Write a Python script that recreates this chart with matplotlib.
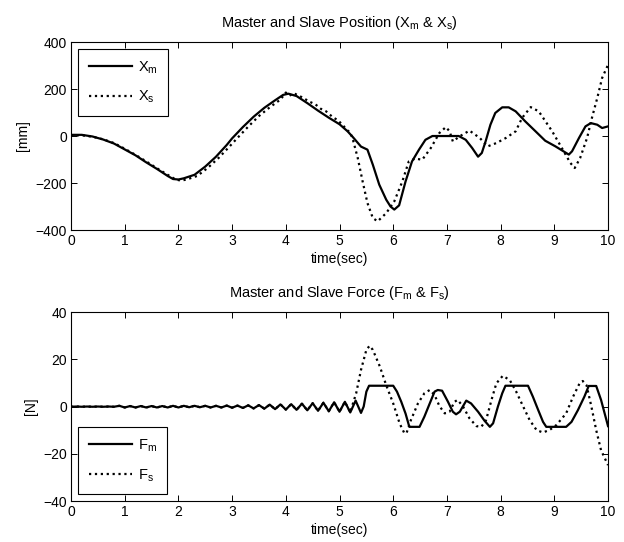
import numpy as np
import matplotlib
matplotlib.use('Agg')
import matplotlib.pyplot as plt

plt.rcParams['font.family'] = ['Liberation Sans', 'DejaVu Sans']
plt.rcParams['font.size'] = 10
plt.rcParams['mathtext.default'] = 'regular'

# ---- position data (t in sec, value in mm) ----
t_xm = [0, 0.2, 0.4, 0.6, 0.8, 1.0, 1.2, 1.4, 1.6, 1.8, 1.9, 2.0, 2.1, 2.3, 2.5, 2.7,
        2.9, 3.0, 3.2, 3.4, 3.6, 3.8, 3.95, 4.05, 4.2, 4.4, 4.6, 4.8, 5.0, 5.15, 5.25,
        5.4, 5.52, 5.62, 5.74, 5.87, 5.95, 6.02, 6.11, 6.23, 6.35, 6.48, 6.6, 6.73,
        7.22, 7.35, 7.47, 7.58, 7.65, 7.72, 7.81, 7.9, 8.03, 8.15, 8.28, 8.46, 8.65,
        8.83, 9.02, 9.27, 9.33, 9.46, 9.58, 9.68, 9.8, 9.89, 10]
xm = [5, 5, -2, -15, -32, -57, -82, -112, -140, -170, -183, -185, -180, -165, -130, -88,
      -38, -10, 38, 82, 120, 152, 175, 180, 170, 140, 108, 78, 50, 20, -5,
      -45, -58, -122, -207, -271, -300, -313, -295, -193, -108, -58, -16, 0,
      0, -16, -51, -88, -72, -23, 48, 98, 122, 122, 105, 62, 20,
      -20, -44, -79, -65, -8, 41, 55, 48, 34, 41]

t_xs = [0, 0.2, 0.4, 0.6, 0.8, 1.0, 1.2, 1.4, 1.6, 1.8, 1.95, 2.05, 2.15, 2.35, 2.55, 2.75,
        2.95, 3.1, 3.3, 3.5, 3.7, 3.9, 4.0, 4.07, 4.15, 4.3, 4.45, 4.55, 4.65, 4.75, 4.88,
        4.95, 5.05, 5.13, 5.2, 5.25, 5.34, 5.43, 5.52, 5.62, 5.71, 5.87, 6.02, 6.17, 6.29,
        6.41, 6.54, 6.7, 6.86, 6.98, 7.05, 7.11, 7.24, 7.42, 7.61, 7.76, 7.92, 8.1, 8.28,
        8.4, 8.56, 8.71, 8.96, 9.14, 9.3, 9.38, 9.48, 9.61, 9.7, 9.8, 9.89, 10]
xs = [3, 3, -3, -14, -30, -54, -80, -108, -137, -165, -185, -190, -185, -170, -135, -93,
      -45, -8, 40, 85, 122, 155, 185, 172, 182, 165, 145, 135, 116, 105, 79,
      70, 50, 27, 15, -16, -94, -193, -285, -349, -363, -328, -278, -193, -108,
      -96, -101, -51, 13, 38, 20, -23, -1, 23, -8, -44, -30, -8, 20,
      77, 123, 105, 20, -51, -115, -136, -94, -8, 77, 162, 247, 303]

# ---- force data (N) ----
# oscillation sampled every 0.1 s from 0 to 5.2 s (same for both signals)
f_osc = [-0.1, 0.0, -0.1, 0.0, -0.1, 0.0, -0.1, 0.0, -0.1, 0.3, -0.4, 0.2, -0.4, 0.2, -0.4,
         0.2, -0.4, 0.2, -0.4, 0.3, -0.4, 0.3, -0.3, 0.3, -0.3, 0.3, -0.4, 0.3, -0.4, 0.4,
         -0.5, 0.4, -0.6, 0.5, -0.8, 0.6, -0.9, 0.8, -1.1, 0.9, -1.3, 1.0, -1.4, 1.2, -1.6,
         1.4, -1.8, 1.6, -2.0, 1.8, -2.2, 2.0, -2.5]
t_osc = [round(0.1 * i, 1) for i in range(len(f_osc))]

t_fm = [5.3, 5.4, 5.45, 5.5, 5.55, 6.0, 6.07, 6.15, 6.23, 6.3, 6.49, 6.58, 6.68, 6.77,
        6.83, 6.91, 7.02, 7.11, 7.17, 7.24, 7.36, 7.45, 7.58, 7.7, 7.8, 7.86, 7.95, 8.03,
        8.09, 8.51, 8.6, 8.7, 8.79, 8.85, 9.22, 9.32, 9.44, 9.56, 9.64, 9.78, 9.87, 9.97, 10]
fm = [2.5, -2.7, 0, 6.3, 8.8, 8.8, 6.3, 2, -3, -8.6, -8.6, -4.3, 1.3, 6.3,
      7, 6.7, 2, -2.2, -3.3, -2.2, 2.5, 1.3, -2.2, -6, -8.6, -7.1, 0, 5.6,
      8.8, 8.8, 4.2, -1.5, -6.5, -8.6, -8.6, -6.5, -1.5, 4.2, 8.7, 8.7, 2.8, -5.7, -8.3]

t_fs = [5.25, 5.31, 5.4, 5.5, 5.56, 5.62, 5.75, 5.87, 6.0, 6.12, 6.21, 6.25, 6.33, 6.46,
        6.58, 6.68, 6.77, 6.86, 6.96, 7.05, 7.14, 7.2, 7.3, 7.42, 7.55, 7.64, 7.73, 7.83,
        7.92, 8.04, 8.17, 8.29, 8.42, 8.54, 8.67, 8.79, 8.92, 9.04, 9.22, 9.35, 9.47,
        9.53, 9.6, 9.69, 9.78, 9.87, 10]
fs = [1.3, 5.6, 15.5, 24, 25.7, 24, 17, 9, 1.3, -7.2, -11.4, -11.1, -5.7, 1.3,
      5.6, 7, 4.9, 0.2, -2.9, -2.2, 2, 2.8, 0, -5, -8.3, -8.6, -5.7, 2.8,
      9.8, 13, 11.2, 6.3, 0, -5.7, -10, -11, -9.8, -7.8, -2.9, 4.2, 9.8,
      10.8, 9, 0, -10, -18.5, -24.8]

fig = plt.figure(figsize=(6.24, 5.42), dpi=100)
ax1 = fig.add_axes([0.1138, 0.5756, 0.8606, 0.3469])
ax2 = fig.add_axes([0.1138, 0.0756, 0.8606, 0.3487])


def style(ax):
    ax.set_xlim(0, 10)
    ax.set_xticks(range(0, 11))
    ax.tick_params(direction='in', top=True, right=True, length=4, width=0.7, pad=3,
                   labelsize=10)
    for s in ax.spines.values():
        s.set_linewidth(0.8)
    ax.set_xlabel('time(sec)', labelpad=3, fontsize=10)


def add_legend(ax, where):
    leg = ax.legend(loc=where, handlelength=3.0, handletextpad=0.4, labelspacing=0.9,
                    fancybox=False, edgecolor='black', framealpha=1,
                    borderaxespad=0.5, borderpad=0.7, fontsize=10.5)
    leg.get_frame().set_linewidth(0.8)


ax1.plot(t_xm, xm, color='black', lw=1.6, label='$X_m$')
ax1.plot(t_xs, xs, color='black', lw=1.6, ls=':', label='$X_s$')
ax1.set_ylim(-400, 400)
ax1.set_yticks([-400, -200, 0, 200, 400])
ax1.set_ylabel('[mm]', fontsize=10)
ax1.set_title('Master and Slave Position ($X_m$ & $X_s$)', pad=11, fontsize=10.5)
style(ax1)
add_legend(ax1, 'upper left')

ax2.plot(t_osc + t_fm, f_osc + fm, color='black', lw=1.6, label='$F_m$')
ax2.plot(t_osc + t_fs, f_osc + fs, color='black', lw=1.6, ls=':', label='$F_s$')
ax2.set_ylim(-40, 40)
ax2.set_yticks([-40, -20, 0, 20, 40])
ax2.set_ylabel('[N]', fontsize=10)
ax2.set_title('Master and Slave Force ($F_m$ & $F_s$)', pad=11, fontsize=10.5)
style(ax2)
add_legend(ax2, 'lower left')

fig.savefig('out.png', dpi=100)
